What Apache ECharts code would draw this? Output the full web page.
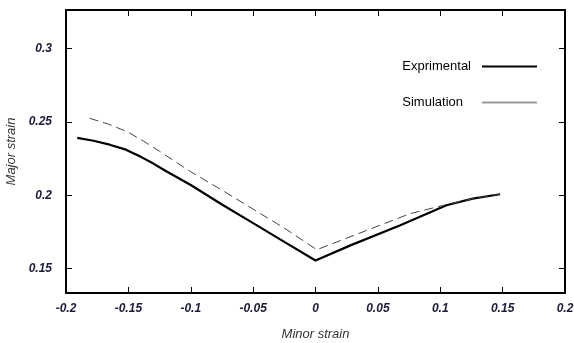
<!DOCTYPE html>
<html><head><meta charset="utf-8">
<script src="https://cdn.jsdelivr.net/npm/echarts@6/dist/echarts.min.js"></script>
<style>html,body{margin:0;padding:0;background:#fff}#c{width:574px;height:343px}</style>
</head><body><div id="c"></div>
<script>
const expX = [-0.191, -0.178, -0.165, -0.152, -0.14, -0.13, -0.12, -0.1, -0.075, -0.05, -0.025, 0, 0.028, 0.068, 0.105, 0.126, 0.148];
const expY = [0.2392, 0.2372, 0.2345, 0.2311, 0.2262, 0.2216, 0.2165, 0.207, 0.1937, 0.181, 0.1682, 0.1555, 0.1658, 0.1795, 0.1932, 0.1977, 0.2007];
const simX = [-0.181, -0.166, -0.151, -0.138, -0.125, -0.1, -0.075, -0.05, -0.025, 0.001, 0.041, 0.076, 0.102, 0.126, 0.148];
const simY = [0.2525, 0.2485, 0.2434, 0.237, 0.2300, 0.216, 0.2035, 0.1905, 0.1776, 0.1628, 0.176, 0.1875, 0.193, 0.1977, 0.2007];
const yTicks = [0.15, 0.2, 0.25, 0.3];
const seriesNames = ['Exprimental', 'Simulation'];
const xName = 'Minor strain';
const yName = 'Major strain';

const zip = (xs, ys) => xs.map((x, i) => [x, ys[i]]);
const fmt = v => (Math.abs(v) < 1e-9 ? '0' : String(+v.toFixed(2)));
const lblStyle = {fontFamily: 'Arial', fontSize: 12, fontWeight: 'bold', fontStyle: 'italic', color: '#1b1b3a'};
const nameStyle = {fontFamily: 'Arial', fontSize: 13, fontStyle: 'italic', color: '#333'};
const lineAx = {show: true, onZero: false, lineStyle: {color: '#000', width: 2}};
const tickIn = {show: true, inside: true, length: 6, lineStyle: {color: '#000', width: 1}};
const legBase = {orient: 'vertical', right: 32, align: 'right', icon: 'rect', itemWidth: 55, itemHeight: 2};

const chart = echarts.init(document.getElementById('c'));
chart.setOption({
  backgroundColor: '#fff',
  animation: false,
  grid: {left: 66, right: 9, top: 10, bottom: 50, outerBoundsMode: 'none', containLabel: false},
  legend: [
    Object.assign({top: 55, data: [{name: seriesNames[0], itemStyle: {color: '#000'}}],
      textStyle: {fontFamily: 'Arial', fontSize: 13, color: '#000', padding: [0, 6, 0, 0]}}, legBase),
    Object.assign({top: 91, data: [{name: seriesNames[1], itemStyle: {color: '#999'}}],
      textStyle: {fontFamily: 'Arial', fontSize: 13, color: '#000', padding: [0, 14, 0, 0]}}, legBase)
  ],
  xAxis: [
    {type: 'value', position: 'bottom', min: -0.2, max: 0.2, interval: 0.05,
     name: xName, nameLocation: 'middle', nameGap: 35, nameTextStyle: nameStyle,
     axisLine: lineAx, axisTick: tickIn, splitLine: {show: false},
     axisLabel: Object.assign({formatter: fmt, margin: 10, showMinLabel: true, showMaxLabel: true}, lblStyle)},
    {type: 'value', position: 'top', min: -0.2, max: 0.2, interval: 0.05,
     axisLine: lineAx, axisTick: tickIn, splitLine: {show: false}, axisLabel: {show: false}}
  ],
  yAxis: [
    {type: 'value', position: 'left', min: 0.1333, max: 0.3264,
     name: yName, nameLocation: 'middle', nameGap: 45, nameTextStyle: nameStyle,
     axisLine: lineAx, axisTick: Object.assign({customValues: yTicks}, tickIn), splitLine: {show: false},
     axisLabel: Object.assign({customValues: yTicks, formatter: fmt, margin: 14}, lblStyle)},
    {type: 'value', position: 'right', min: 0.1333, max: 0.3264,
     axisLine: lineAx, axisTick: Object.assign({customValues: yTicks}, tickIn), splitLine: {show: false},
     axisLabel: {show: false}}
  ],
  series: [
    {name: seriesNames[0], type: 'line', showSymbol: false, symbol: 'none',
     data: zip(expX, expY), itemStyle: {color: '#000'},
     lineStyle: {color: '#000', width: 2.2}},
    {name: seriesNames[1], type: 'line', showSymbol: false, symbol: 'none',
     data: zip(simX, simY), itemStyle: {color: '#555'},
     lineStyle: {color: '#444', width: 1, type: [9, 5]}}
  ]
});
</script>
</body></html>
